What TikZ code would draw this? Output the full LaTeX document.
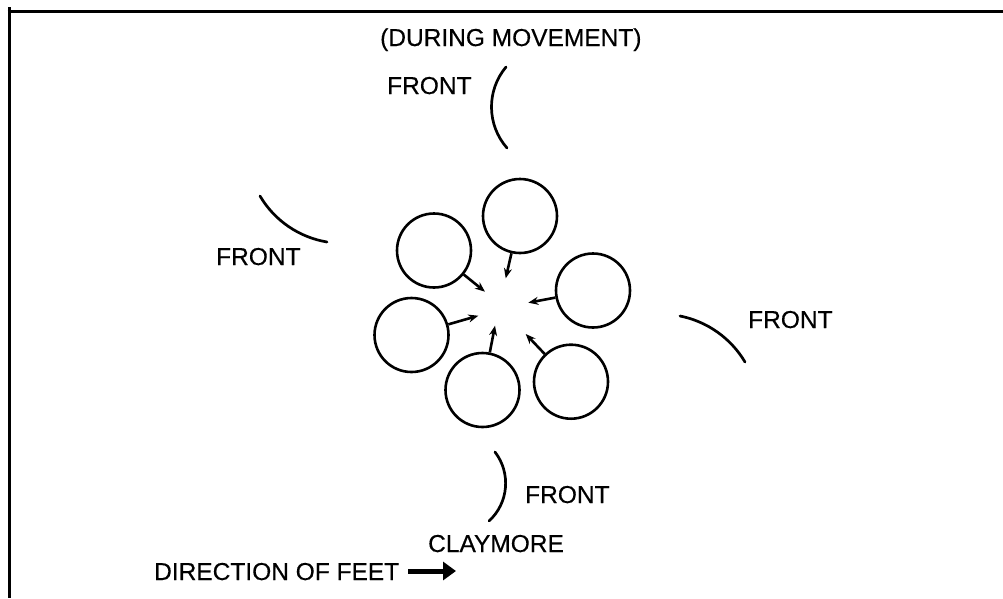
\documentclass[tikz,border=0pt]{standalone}
\usepackage{fontspec}
\setmainfont{Liberation Sans}
\newfontfamily\lblfont{Liberation Sans}[FakeBold=0.4]
\usetikzlibrary{arrows.meta}
\begin{document}
\begin{tikzpicture}[x=1pt,y=-1pt,
  circ/.style={circle,draw,line width=2.6pt,minimum size=74pt,inner sep=0pt},
  inarrow/.style={line width=2.6pt,-{Stealth[length=10pt,width=8pt]}},
  frontarc/.style={line width=2.7pt,line cap=round},
  lbl/.style={inner sep=0pt,anchor=base west,font=\lblfont\fontsize{24.5}{28}\selectfont},
  feetarrow/.style={line width=5pt,-{Triangle[length=13pt,width=18pt]}},
]
\useasboundingbox (0,0) rectangle (1003,598);
% frame
\draw[line width=3pt] (9,7) -- (9,598);
\draw[line width=3pt] (7.5,11) -- (1003,11);

% circles
\node[circ] (c1) at (520,216) {};
\node[circ] (c2) at (434,250.5) {};
\node[circ] (c3) at (593,290.5) {};
\node[circ] (c4) at (411.5,335) {};
\node[circ] (c5) at (482.5,390) {};
\node[circ] (c6) at (571,381.7) {};

% arrow tips
\coordinate (t1) at (505.7,278.3);
\coordinate (t2) at (485,291.7);
\coordinate (t3) at (528.3,302.7);
\coordinate (t4) at (478.3,315.7);
\coordinate (t5) at (495,325.7);
\coordinate (t6) at (525.7,334);
\draw[inarrow] (c1) -- (t1);
\draw[inarrow] (c2) -- (t2);
\draw[inarrow] (c3) -- (t3);
\draw[inarrow] (c4) -- (t4);
\draw[inarrow] (c5) -- (t5);
\draw[inarrow] (c6) -- (t6);

% front arcs
\draw[frontarc] (506,67) .. controls (486.3,90.5) and (486.7,124.9) .. (507,148);
\draw[frontarc] (260,196) .. controls (274.4,220.5) and (299,237.3) .. (327,242);
\draw[frontarc] (680,316) .. controls (707.2,321.4) and (730.9,338.2) .. (745,362);
\draw[frontarc] (495,452) .. controls (511.2,473.1) and (508.6,503.1) .. (489,521);

% labels
\node[lbl] (title) at (380,46) {(DURING MOVEMENT)};
\node[lbl] (ftop) at (387,94) {FRONT};
\node[lbl] (fleft) at (216,265) {FRONT};
\node[lbl] (fright) at (748,328) {FRONT};
\node[lbl] (fbot) at (525,503) {FRONT};
\node[lbl] (clay) at (428,552) {CLAYMORE};
\node[lbl] (dir) at (154,580) {DIRECTION OF FEET};

% direction arrow
\coordinate (fa) at (408,571);
\coordinate (fb) at (456,571);
\draw[feetarrow] (fa) -- (fb);
\end{tikzpicture}
\end{document}
